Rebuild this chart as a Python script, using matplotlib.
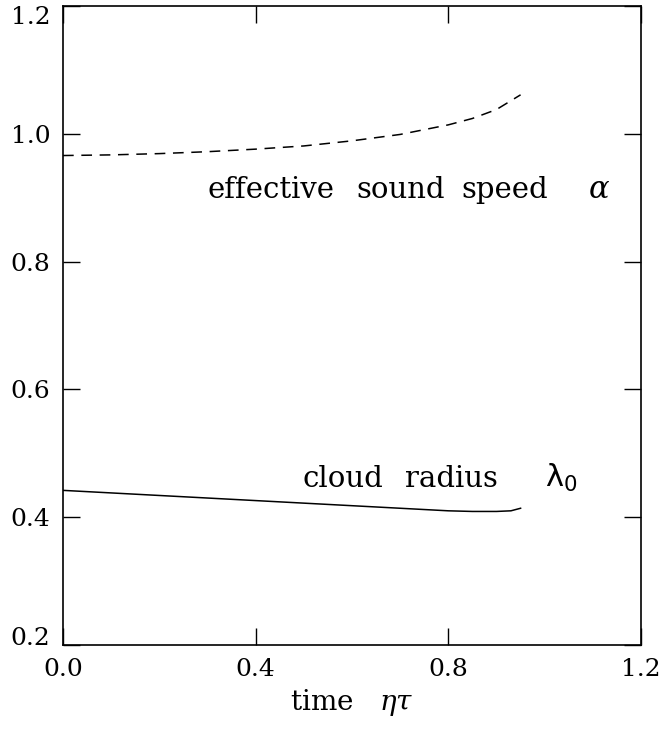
import numpy as np
import matplotlib
matplotlib.use('Agg')
import matplotlib.pyplot as plt

# values
t_alpha = [0.0, 0.1, 0.2, 0.3, 0.4, 0.5, 0.6, 0.7, 0.8, 0.85, 0.9, 0.95]
alpha = [0.966, 0.967, 0.969, 0.972, 0.976, 0.981, 0.989, 0.999, 1.014, 1.024, 1.038, 1.061]

t_lam = [0.0, 0.1, 0.2, 0.3, 0.4, 0.5, 0.6, 0.7, 0.8, 0.85, 0.9, 0.93, 0.95]
lam0 = [0.442, 0.438, 0.434, 0.430, 0.426, 0.422, 0.418, 0.414, 0.410, 0.409, 0.409, 0.410, 0.414]

xticks = [0.0, 0.4, 0.8, 1.2]
yticks = [0.2, 0.4, 0.6, 0.8, 1.0, 1.2]

plt.rcParams['font.family'] = 'DejaVu Serif'
plt.rcParams['mathtext.fontset'] = 'dejavuserif'

fig = plt.figure(figsize=(6.63, 7.33), dpi=100)
ax = fig.add_axes([63/663, 1 - 645/733, 578/663, 639/733])

ax.plot(t_alpha, alpha, color='k', lw=1.1, ls=(0, (7, 5)))
ax.plot(t_lam, lam0, color='k', lw=1.1)

ax.set_xlim(0, 1.2)
ax.set_ylim(0.2, 1.2)
ax.set_xticks(xticks)
ax.set_yticks(yticks)
ax.set_xticklabels(['%.1f' % v for v in xticks])
ax.set_yticklabels(['%.1f' % v for v in yticks])
ax.tick_params(direction='in', length=12, width=1, top=True, right=True,
               labelsize=18, pad=9)
# end labels on the y axis sit inside the frame like in the original
ylabs = ax.get_yticklabels()
ylabs[0].set_va('baseline')
ylabs[-1].set_va('top')
for s in ax.spines.values():
    s.set_linewidth(1.2)

# words spaced out like the old plotting font
for w, xw in zip(['effective', 'sound', 'speed'], [0.299, 0.610, 0.828]):
    ax.text(xw, 0.9, w, fontsize=21, va='baseline')
ax.text(1.09, 0.9, r'$\alpha$', fontsize=22, va='baseline')
for w, xw in zip(['cloud', 'radius'], [0.498, 0.71]):
    ax.text(xw, 0.448, w, fontsize=21, va='baseline')
ax.text(1.0, 0.448, r'$\mathsf{\lambda_0}$', fontsize=22, va='baseline')

ax.set_xlabel(r'time   $\eta\tau$', fontsize=20, labelpad=5)

fig.savefig('out.png', dpi=100)
